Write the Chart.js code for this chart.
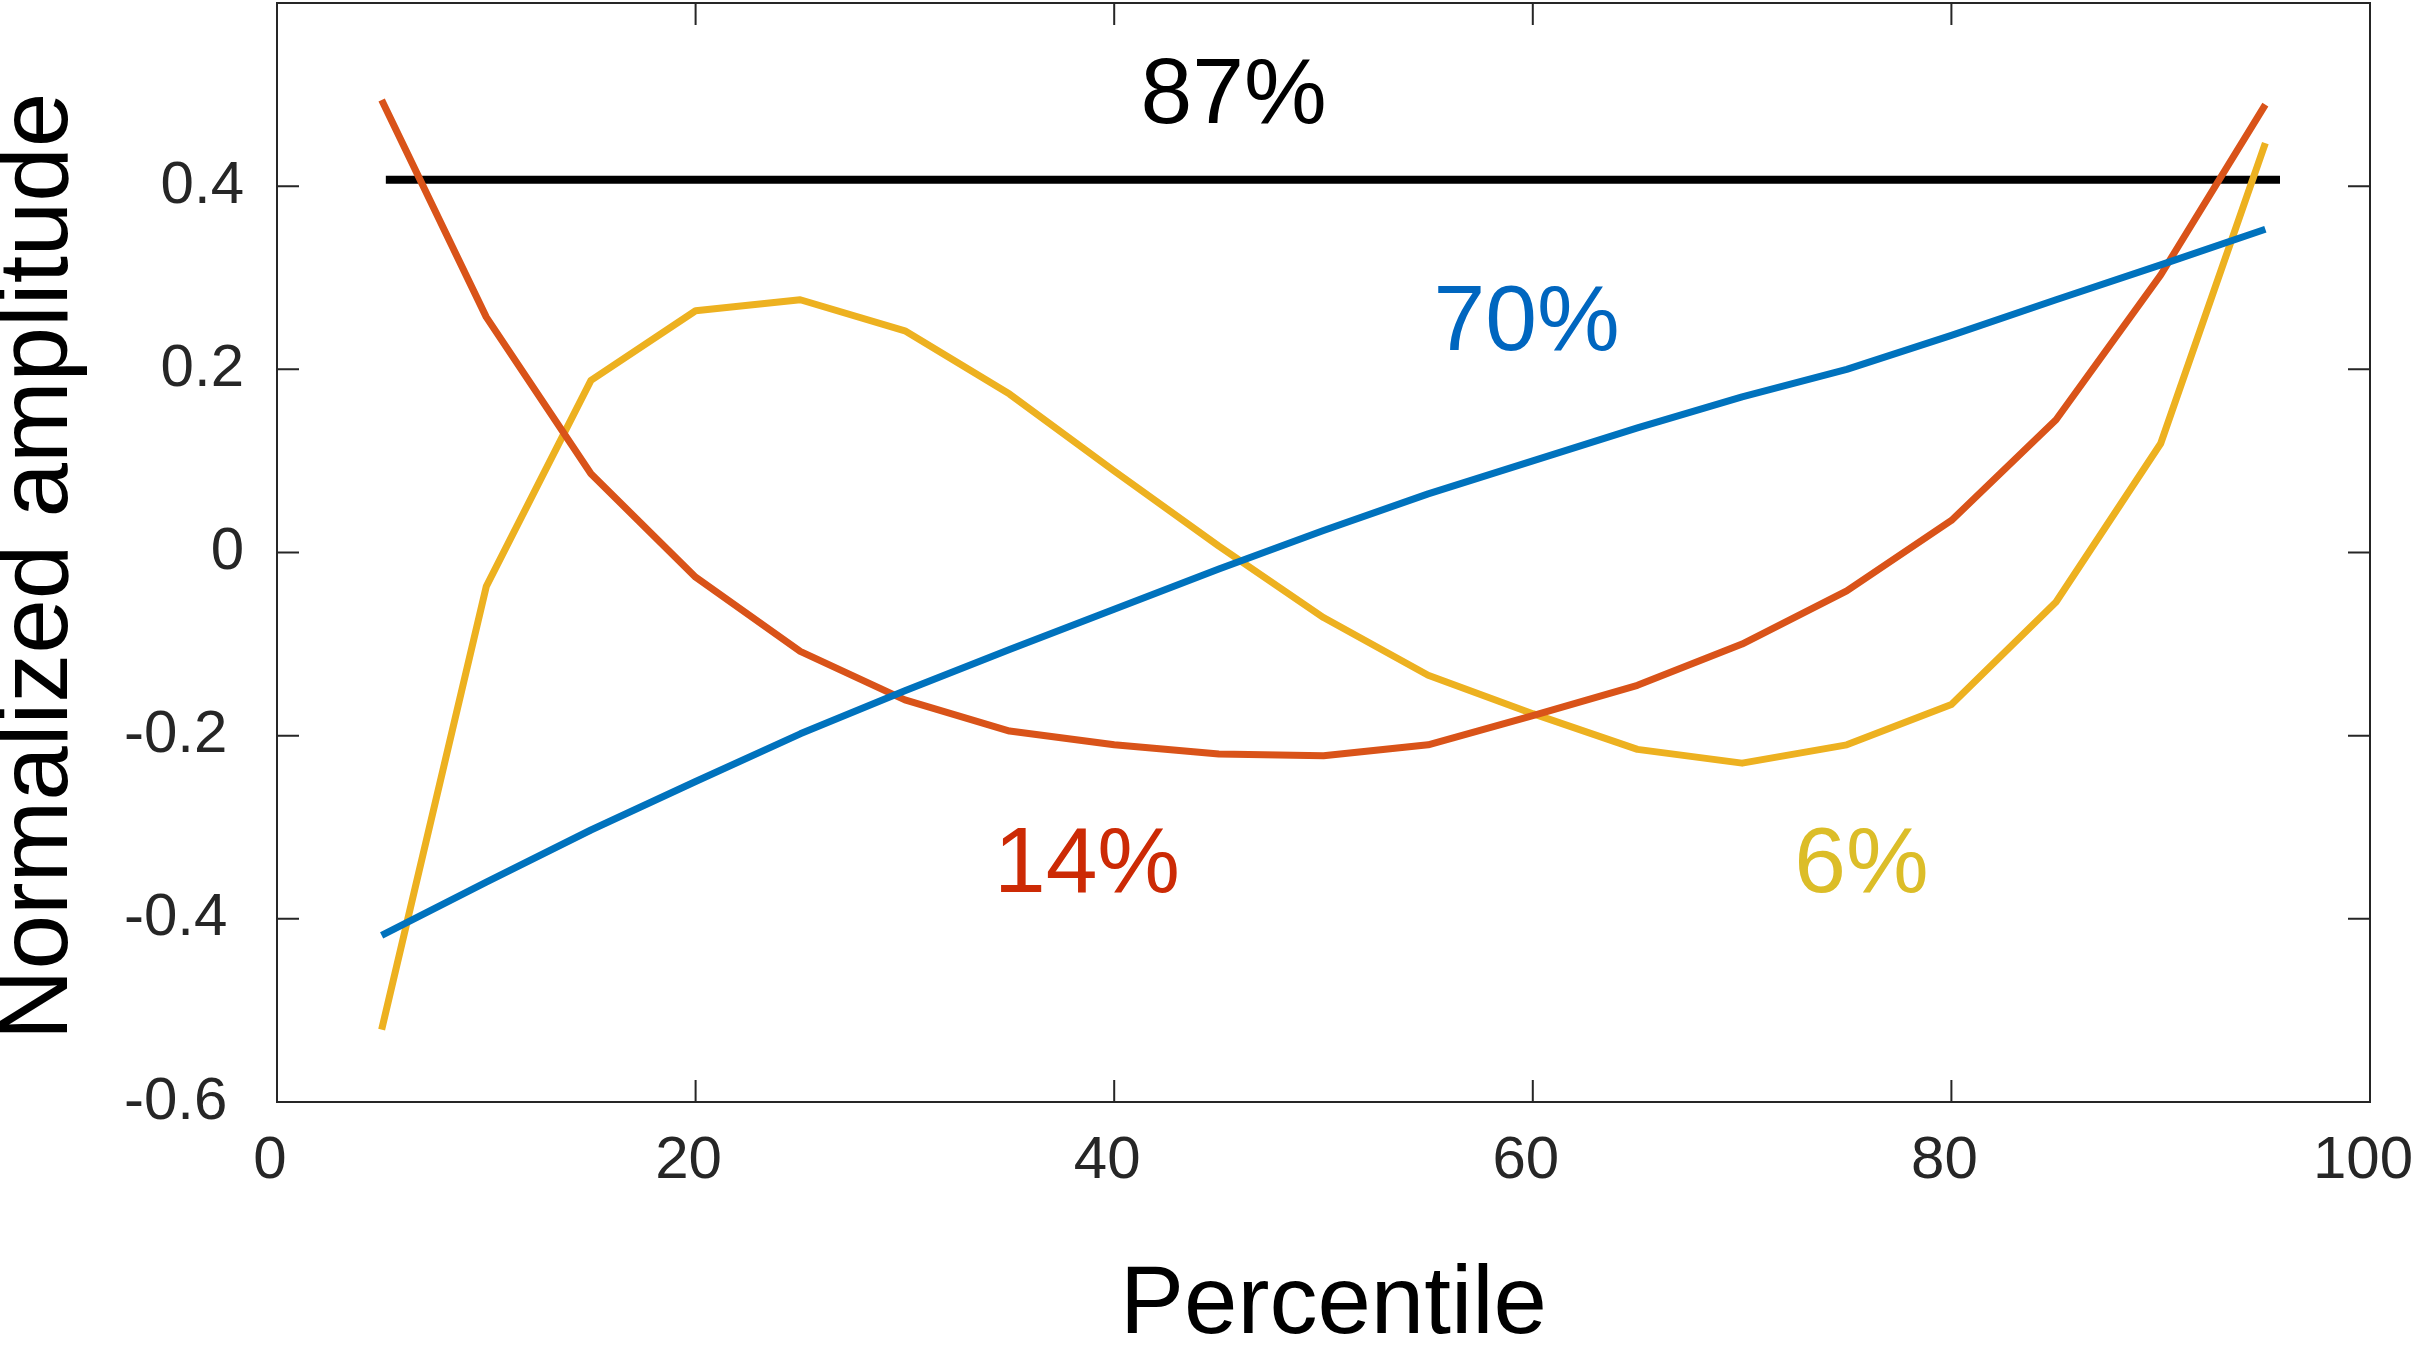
<!DOCTYPE html>
<html>
<head>
<meta charset="utf-8">
<script src="https://cdn.jsdelivr.net/npm/chart.js@4.4.1/dist/chart.umd.min.js"></script>
<style>
  html, body { margin: 0; padding: 0; background: #fff; }
</style>
</head>
<body>
<canvas id="chart" width="2416" height="1353"></canvas>
<script>
// ---- data ----
const percentiles = [5, 10, 15, 20, 25, 30, 35, 40, 45, 50, 55, 60, 65, 70, 75, 80, 85, 90, 95];
const blueValues   = [-0.418, -0.360, -0.303, -0.250, -0.198, -0.151, -0.106, -0.062, -0.018, 0.024, 0.064, 0.100, 0.136, 0.170, 0.200, 0.237, 0.276, 0.314, 0.353];
const redValues    = [0.494, 0.257, 0.086, -0.027, -0.108, -0.161, -0.195, -0.210, -0.220, -0.222, -0.210, -0.178, -0.145, -0.100, -0.042, 0.035, 0.145, 0.303, 0.489];
const yellowValues = [-0.521, -0.037, 0.188, 0.264, 0.276, 0.242, 0.173, 0.089, 0.007, -0.071, -0.134, -0.176, -0.215, -0.230, -0.210, -0.166, -0.054, 0.119, 0.447];
const meanSpan  = [5.2, 95.7];
const meanLevel = 0.407;

const xTickValues = [0, 20, 40, 60, 80, 100];
const yTickValues = [-0.6, -0.4, -0.2, 0, 0.2, 0.4];

const labels = ["87%", "70%", "14%", "6%"];
const labelX = [45.7, 59.7, 38.7, 75.7];
const labelY = [0.497, 0.249, -0.343, -0.343];
const labelColors = ["#000000", "#0066bf", "#cc2a05", "#dcbd28"];

const FONT = "'Liberation Sans', Arial, sans-serif";
const AXIS_COLOR = "#262626";

const toPoints = (xs, ys) => xs.map((x, i) => ({ x, y: ys[i] }));

// box, inward ticks, titles, percentage labels
const matlabAxes = {
  id: "matlabAxes",
  afterDatasetsDraw(chart) {
    const { ctx, chartArea: a, scales: { x, y } } = chart;
    ctx.save();
    ctx.strokeStyle = AXIS_COLOR;
    ctx.lineWidth = 2;
    ctx.strokeRect(a.left, a.top, a.right - a.left, a.bottom - a.top);
    const tl = 22;
    ctx.beginPath();
    xTickValues.forEach(v => {
      const px = x.getPixelForValue(v);
      ctx.moveTo(px, a.bottom); ctx.lineTo(px, a.bottom - tl);
      ctx.moveTo(px, a.top);    ctx.lineTo(px, a.top + tl);
    });
    yTickValues.forEach(v => {
      const py = y.getPixelForValue(v);
      ctx.moveTo(a.left, py);  ctx.lineTo(a.left + tl, py);
      ctx.moveTo(a.right, py); ctx.lineTo(a.right - tl, py);
    });
    ctx.stroke();

    // percentages
    ctx.font = `93px ${FONT}`;
    ctx.textAlign = "center";
    ctx.textBaseline = "middle";
    labels.forEach((t, i) => {
      ctx.fillStyle = labelColors[i];
      ctx.fillText(t, x.getPixelForValue(labelX[i]), y.getPixelForValue(labelY[i]));
    });

    // axis titles
    ctx.fillStyle = "#000";
    ctx.font = `96px ${FONT}`;
    ctx.fillText("Percentile", (a.left + a.right) / 2 + 10, 1307);
    ctx.font = `98px ${FONT}`;
    ctx.translate(40, (a.top + a.bottom) / 2 + 14);
    ctx.rotate(-Math.PI / 2);
    ctx.fillText("Normalized amplitude", 0, 0);
    ctx.restore();
  }
};

const line = (data, color, width) => ({
  data, borderColor: color, borderWidth: width, pointRadius: 0,
  showLine: true, tension: 0, borderCapStyle: "butt", borderJoinStyle: "round"
});

const noEdgePadding = scale => {
  scale.paddingTop = 0; scale.paddingBottom = 0;
  scale.paddingLeft = 0; scale.paddingRight = 0;
};

new Chart(document.getElementById("chart"), {
  type: "scatter",
  data: {
    datasets: [
      line(toPoints(percentiles, blueValues), "#0072bd", 7),
      line(toPoints(percentiles, redValues), "#d95319", 7),
      line(toPoints(percentiles, yellowValues), "#edb120", 7),
      line(toPoints(meanSpan, [meanLevel, meanLevel]), "#000000", 8),
    ],
  },
  options: {
    responsive: false,
    animation: false,
    devicePixelRatio: 1,
    layout: { padding: { top: 3, right: 46, left: 0, bottom: 0 } },
    plugins: { legend: { display: false }, tooltip: { enabled: false } },
    scales: {
      x: {
        type: "linear", min: 0, max: 100,
        afterBuildTicks(scale) { scale.ticks = xTickValues.map(value => ({ value })); },
        afterFit(scale) { scale.height = 251; noEdgePadding(scale); },
        grid: { display: false, drawTicks: false },
        border: { display: false },
        ticks: { color: AXIS_COLOR, font: { family: FONT, size: 60 }, padding: 23, maxRotation: 0, labelOffset: -7 },
      },
      y: {
        type: "linear", min: -0.6, max: 0.6,
        afterBuildTicks(scale) { scale.ticks = yTickValues.map(value => ({ value })); },
        afterFit(scale) { scale.width = 277; noEdgePadding(scale); },
        grid: { display: false, drawTicks: false },
        border: { display: false },
        ticks: {
          color: AXIS_COLOR, font: { family: FONT, size: 60 }, padding: 33,
          callback(v) {
            const s = String(Math.round(v * 10) / 10);
            return v < 0 ? s + " " : s;
          },
        },
      },
    },
  },
  plugins: [matlabAxes],
});
</script>
</body>
</html>
